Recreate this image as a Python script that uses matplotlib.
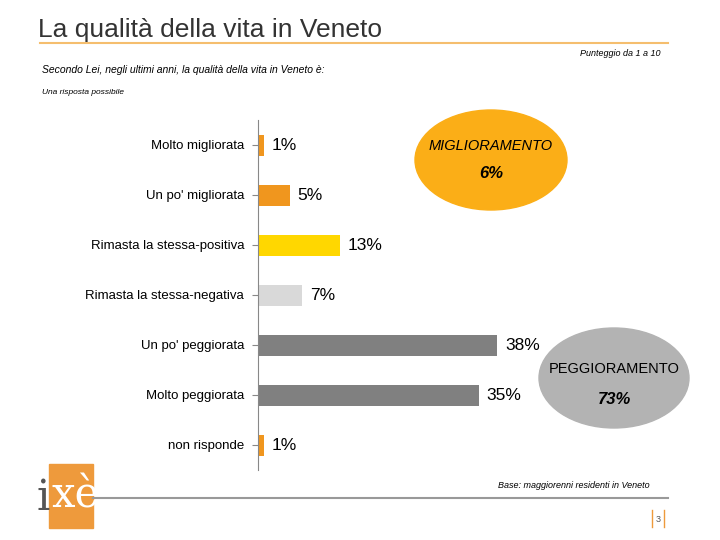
import matplotlib.pyplot as plt
from matplotlib.patches import Ellipse, Rectangle

plt.rcParams['font.family'] = ['Liberation Sans', 'DejaVu Sans']

categories = ['Molto migliorata', "Un po' migliorata", 'Rimasta la stessa-positiva',
              'Rimasta la stessa-negativa', "Un po' peggiorata", 'Molto peggiorata', 'non risponde']
values = [1, 5, 13, 7, 38, 35, 1]
colors = ['#F0961E', '#F0961E', '#FFD700', '#D9D9D9', '#808080', '#808080', '#F0961E']

W, H = 720, 540
fig = plt.figure(figsize=(7.2, 5.4), dpi=100)
fig.patch.set_facecolor('white')

# overlay in pixel coordinates
ov = fig.add_axes([0, 0, 1, 1])
ov.set_xlim(0, W)
ov.set_ylim(H, 0)
ov.axis('off')

ax = fig.add_axes([258 / W, 1 - 470 / H, 441 / W, 350 / H])
ax.patch.set_alpha(0)
ypos = range(len(categories))
ax.barh(ypos, values, height=0.42, color=colors)
ax.set_xlim(0, 70)
ax.set_ylim(len(categories) - 0.5, -0.5)
ax.set_yticks(list(ypos))
ax.set_yticklabels(categories, fontsize=9.5)
ax.tick_params(axis='y', length=4, color='#888888', pad=6)
ax.set_xticks([])
for s in ['top', 'right', 'bottom']:
    ax.spines[s].set_visible(False)
ax.spines['left'].set_color('#888888')
for y, v in zip(ypos, values):
    ax.text(v + 1.2, y, f'{v}%', va='center', ha='left', fontsize=12.5)

ov.text(38, 30, 'La qualità della vita in Veneto', fontsize=19, color='#333333', va='center')
ov.plot([40, 668], [43, 43], color='#F5BE6E', lw=1.5)
ov.text(660, 53, 'Punteggio da 1 a 10', fontsize=6.5, style='italic', ha='right', va='center')
ov.text(42, 70, 'Secondo Lei, negli ultimi anni, la qualità della vita in Veneto è:', fontsize=7.5,
        style='italic', va='center')
ov.text(42, 92, 'Una risposta possibile', fontsize=6, style='italic', va='center')

ov.add_patch(Ellipse((491, 160), 152, 100, color='#FBAE17'))
ov.text(491, 146, 'MIGLIORAMENTO', ha='center', va='center', fontsize=10.5, style='italic')
ov.text(491, 174, '6%', ha='center', va='center', fontsize=12, style='italic', weight='bold')
ov.add_patch(Ellipse((614, 378), 150, 100, color='#B3B3B3'))
ov.text(614, 369, 'PEGGIORAMENTO', ha='center', va='center', fontsize=10.5)
ov.text(614, 399, '73%', ha='center', va='center', fontsize=12, style='italic', weight='bold')

ov.add_patch(Rectangle((49, 464), 44, 64, color='#EE9A3C'))
ov.text(36, 498, 'i', fontsize=30, family='DejaVu Serif', color='#555555', va='center')
ov.text(51, 496, 'xè', fontsize=30, family='DejaVu Serif', color='white', va='center')
ov.plot([93, 668], [498, 498], color='#999999', lw=1.5)
ov.text(650, 486, 'Base: maggiorenni residenti in Veneto', fontsize=6.5, style='italic',
        ha='right', va='center')
ov.plot([652, 652], [510, 527], color='#EE9A3C', lw=1)
ov.plot([664, 664], [510, 527], color='#EE9A3C', lw=1)
ov.text(658, 519, '3', fontsize=6.5, ha='center', va='center', color='#555555')

fig.savefig('out.png', dpi=100)
